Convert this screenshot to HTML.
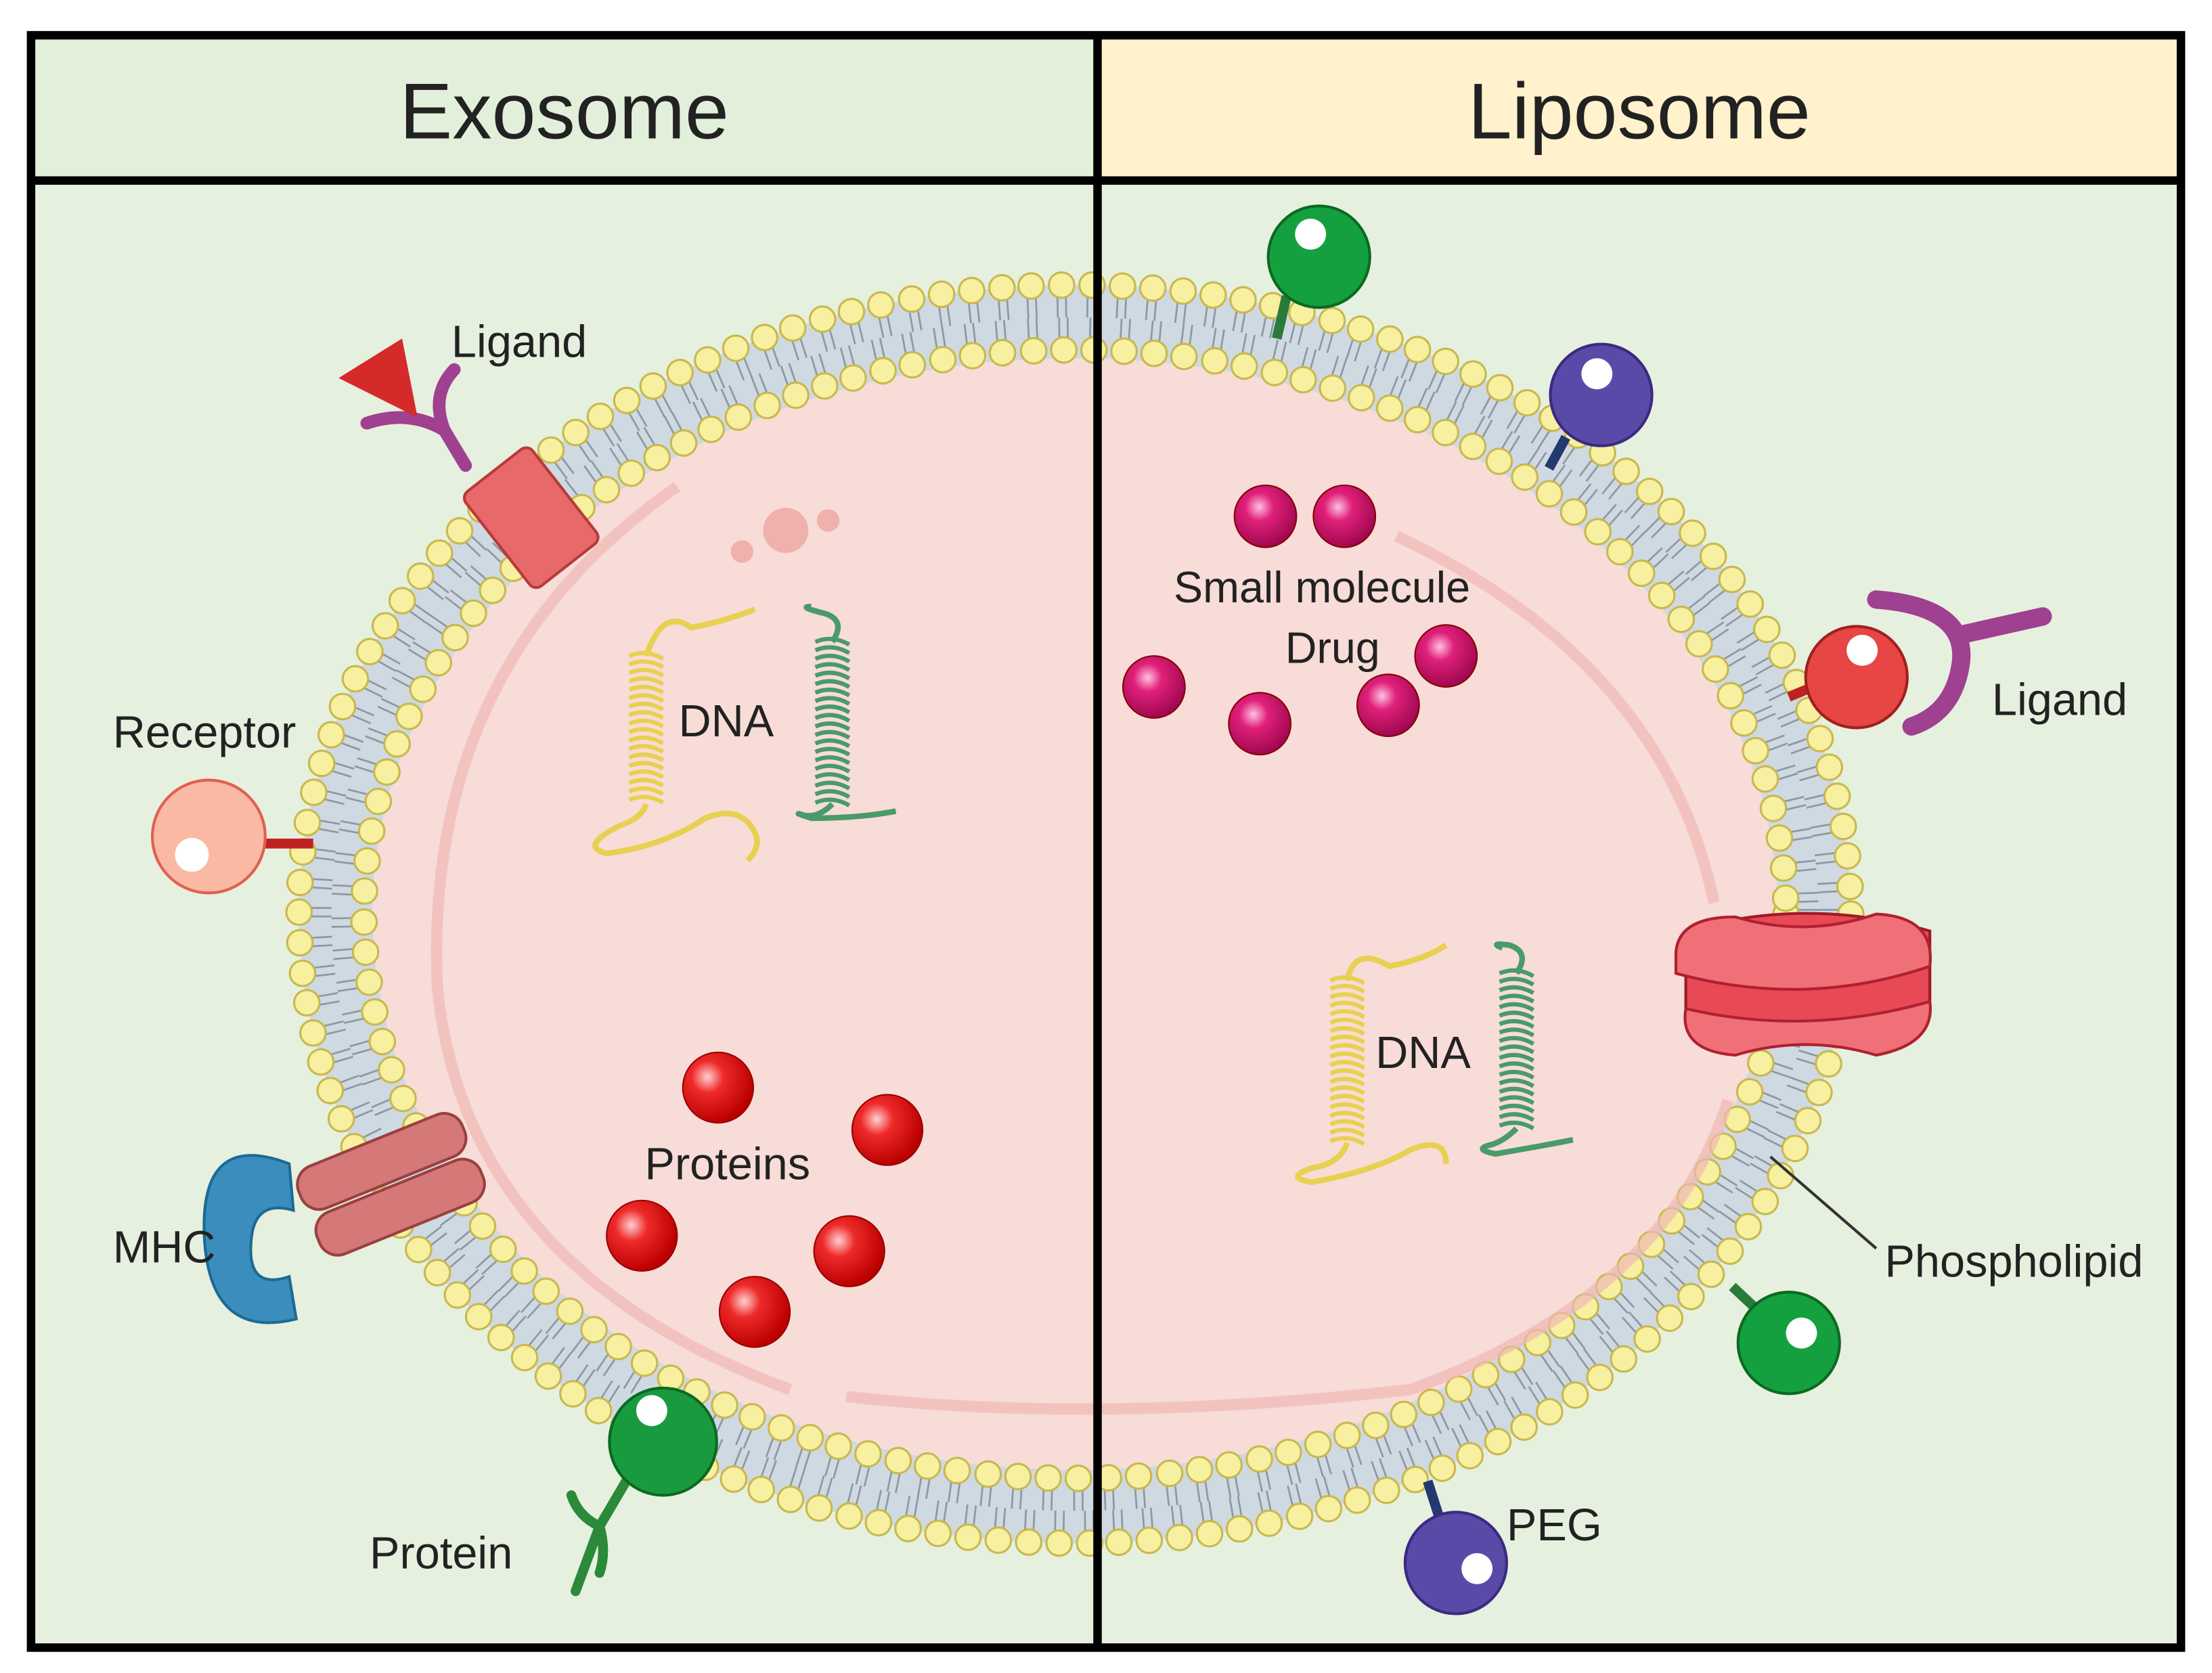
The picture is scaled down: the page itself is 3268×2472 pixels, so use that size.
<!DOCTYPE html>
<html><head><meta charset="utf-8"><style>
html,body{margin:0;padding:0;background:#fff}
svg{display:block}
text{font-family:"Liberation Sans",sans-serif;fill:#222}
</style></head><body>
<svg id="s" width="3268" height="2472" viewBox="0 0 1568 1186" preserveAspectRatio="none" xmlns="http://www.w3.org/2000/svg">
<defs>
<radialGradient id="gred" cx="35%" cy="35%" r="65%"><stop offset="0" stop-color="#ffd0d0"/><stop offset="0.35" stop-color="#ee2a2a"/><stop offset="1" stop-color="#b00"/></radialGradient>
<radialGradient id="gpink" cx="40%" cy="35%" r="65%"><stop offset="0" stop-color="#ffc0e0"/><stop offset="0.35" stop-color="#e0207a"/><stop offset="1" stop-color="#a00850"/></radialGradient>
</defs>
<rect x="0" y="0" width="1568" height="1186" fill="#fff"/>
<rect x="22" y="25" width="756" height="103" fill="#e2efda"/>
<rect x="778" y="25" width="768" height="103" fill="#fff2cc"/>
<rect x="22" y="128" width="1524" height="1040" fill="#e6f0de"/>
<g id="mem"></g>
<path d="M480 345 Q300 470 310 700 Q330 900 560 985" fill="none" stroke="#efb8b4" stroke-width="8" opacity="0.7"/>
<path d="M990 380 Q1180 470 1215 640" fill="none" stroke="#efb8b4" stroke-width="8" opacity="0.7"/>
<path d="M600 990 Q780 1010 1000 985 Q1180 920 1225 780" fill="none" stroke="#efb8b4" stroke-width="8" opacity="0.7"/>
<circle cx="557" cy="376" r="16" fill="#f0b0ac"/><circle cx="587" cy="369" r="8" fill="#f0b0ac"/><circle cx="526" cy="391" r="8" fill="#f0b0ac"/>
<g id="dna"></g>
<text x="481" y="522" font-size="32">DNA</text>
<text x="975" y="757" font-size="32">DNA</text>
<g fill="url(#gred)" stroke="#900" stroke-width="1">
<circle cx="509" cy="771" r="25"/><circle cx="629" cy="801" r="25"/><circle cx="455" cy="876" r="25"/><circle cx="602" cy="887" r="25"/><circle cx="535" cy="930" r="25"/>
</g>
<text x="457" y="836" font-size="32">Proteins</text>
<g fill="url(#gpink)" stroke="#800" stroke-width="1">
<circle cx="897" cy="366" r="22"/><circle cx="953" cy="366" r="22"/><circle cx="1025" cy="465" r="22"/><circle cx="818" cy="487" r="22"/><circle cx="893" cy="513" r="22"/><circle cx="984" cy="500" r="22"/>
</g>
<text x="832" y="427" font-size="31">Small molecule</text>
<text x="911" y="470" font-size="31">Drug</text>
<g transform="rotate(-38 375 365)"><rect x="345" y="325" width="60" height="85" rx="6" fill="#e8696a" stroke="#b83a3a" stroke-width="2"/></g>
<path d="M330 330 L315 305 M315 305 Q290 290 260 300 M315 305 Q305 280 322 262" fill="none" stroke="#a04090" stroke-width="9" stroke-linecap="round"/>
<path d="M240 268 L285 240 L296 296 Z" fill="#d42a2a"/>
<text x="320" y="253" font-size="32">Ligand</text>
<line x1="185" y1="598" x2="222" y2="598" stroke="#c02020" stroke-width="7"/>
<circle cx="148" cy="593" r="40" fill="#f9b9a5" stroke="#e06050" stroke-width="2"/>
<circle cx="136" cy="606" r="12" fill="#fff"/>
<text x="80" y="530" font-size="32">Receptor</text>
<path d="M205 825 Q140 800 145 880 Q150 950 210 935 L205 905 Q175 915 178 880 Q180 850 208 858 Z" fill="#3a8dbc" stroke="#1d6a94" stroke-width="2"/>
<g transform="rotate(-22 280 840)"><rect x="215" y="805" width="125" height="32" rx="14" fill="#d47878" stroke="#9a4040" stroke-width="2"/><rect x="215" y="840" width="125" height="32" rx="14" fill="#d47878" stroke="#9a4040" stroke-width="2"/></g>
<text x="80" y="895" font-size="32">MHC</text>
<path d="M445 1048 L425 1082 M425 1082 L408 1128 M425 1082 Q410 1075 405 1060 M425 1082 Q430 1100 425 1115" fill="none" stroke="#2a8a3a" stroke-width="7" stroke-linecap="round"/>
<circle cx="470" cy="1022" r="38" fill="#1a9a3e" stroke="#0a6a20" stroke-width="2"/>
<circle cx="462" cy="1000" r="11" fill="#fff"/>
<text x="262" y="1112" font-size="32">Protein</text>
<line x1="912" y1="210" x2="905" y2="240" stroke="#2a7a3a" stroke-width="7"/>
<circle cx="935" cy="182" r="36" fill="#15a040" stroke="#0a6a20" stroke-width="2"/><circle cx="929" cy="166" r="11" fill="#fff"/>
<line x1="1110" y1="310" x2="1098" y2="332" stroke="#223a70" stroke-width="7"/>
<circle cx="1135" cy="280" r="36" fill="#5a4aa8" stroke="#3a2a80" stroke-width="2"/><circle cx="1132" cy="265" r="11" fill="#fff"/>
<line x1="1268" y1="494" x2="1285" y2="487" stroke="#c02020" stroke-width="7"/>
<circle cx="1316" cy="480" r="36" fill="#e84545" stroke="#a02020" stroke-width="2"/><circle cx="1320" cy="461" r="11" fill="#fff"/>
<path d="M1330 425 Q1395 430 1390 470 Q1385 505 1355 515 M1390 450 L1448 437" fill="none" stroke="#a04090" stroke-width="13" stroke-linecap="round"/>
<text x="1412" y="507" font-size="32">Ligand</text>
<path d="M1195 660 Q1280 635 1368 660 L1368 720 Q1280 745 1195 720 Z" fill="#e84a55" stroke="#a01828" stroke-width="2"/>
<path d="M1188 675 Q1190 650 1230 650 Q1280 665 1330 648 Q1372 650 1368 685 Q1280 715 1188 690 Z" fill="#f07078" stroke="#b02030" stroke-width="2"/>
<path d="M1195 715 Q1280 735 1368 710 Q1372 740 1330 748 Q1280 733 1230 748 Q1190 745 1195 715 Z" fill="#f07078" stroke="#b02030" stroke-width="2"/>
<line x1="1255" y1="820" x2="1330" y2="885" stroke="#333" stroke-width="2"/>
<text x="1336" y="905" font-size="32">Phospholipid</text>
<line x1="1228" y1="912" x2="1245" y2="928" stroke="#2a7a3a" stroke-width="7"/>
<circle cx="1268" cy="952" r="36" fill="#15a040" stroke="#0a6a20" stroke-width="2"/><circle cx="1277" cy="945" r="11" fill="#fff"/>
<line x1="1012" y1="1050" x2="1020" y2="1075" stroke="#223a70" stroke-width="7"/>
<circle cx="1032" cy="1108" r="36" fill="#5a4aa8" stroke="#3a2a80" stroke-width="2"/><circle cx="1047" cy="1112" r="11" fill="#fff"/>
<text x="1068" y="1092" font-size="32">PEG</text>
<rect x="22" y="25" width="1524" height="1143" fill="none" stroke="#000" stroke-width="6"/>
<line x1="22" y1="128" x2="1546" y2="128" stroke="#000" stroke-width="6"/>
<line x1="778" y1="25" x2="778" y2="1168" stroke="#000" stroke-width="6"/>
<text x="400" y="98" font-size="56" text-anchor="middle" fill="#111">Exosome</text>
<text x="1162" y="98" font-size="56" text-anchor="middle" fill="#111">Liposome</text>
</svg>
<script>
(function(){
var NS="http://www.w3.org/2000/svg",g=document.getElementById("mem");
var cx=762,cy=648,rx=550,ry=446;
function el(n,a){var e=document.createElementNS(NS,n);for(var k in a)e.setAttribute(k,a[k]);return e;}
g.appendChild(el("ellipse",{cx:cx,cy:cy,rx:rx,ry:ry,fill:"#cfd9e2"}));
g.appendChild(el("ellipse",{cx:cx,cy:cy,rx:rx-52,ry:ry-52,fill:"#f7dcd7"}));
function ring(off,sp){var pts=[],N=4000,L=0,prev=null,next=0;
 for(var i=0;i<=N;i++){var t=i/N*2*Math.PI,x=cx+(rx-off)*Math.cos(t),y=cy+(ry-off)*Math.sin(t);
  if(prev)L+=Math.hypot(x-prev[0],y-prev[1]);prev=[x,y];
  if(L>=next){pts.push([x,y,t]);next+=sp;}}
 return pts;}
var o=ring(0,21.5),inn=ring(46,21.5);
o.forEach(function(p){var t=p[2],nx=Math.cos(t)/rx,ny=Math.sin(t)/ry,n=Math.hypot(nx,ny);nx/=n;ny/=n;
 [-3,3].forEach(function(d){var tx=-ny*d,ty=nx*d;g.appendChild(el("line",{x1:p[0]+tx,y1:p[1]+ty,x2:p[0]-nx*23+tx,y2:p[1]-ny*23+ty,stroke:"#8d98a3","stroke-width":1.3}));});});
inn.forEach(function(p){var t=p[2],nx=Math.cos(t)/rx,ny=Math.sin(t)/ry,n=Math.hypot(nx,ny);nx/=n;ny/=n;
 [-3,3].forEach(function(d){var tx=-ny*d,ty=nx*d;g.appendChild(el("line",{x1:p[0]+tx,y1:p[1]+ty,x2:p[0]+nx*23+tx,y2:p[1]+ny*23+ty,stroke:"#8d98a3","stroke-width":1.3}));});});
o.concat(inn).forEach(function(p){g.appendChild(el("circle",{cx:p[0],cy:p[1],r:9,fill:"#f6f0a0",stroke:"#c9b84e","stroke-width":1.5}));});
var d=document.getElementById("dna");
function helix(x,y0,y1,col,lead,tail){var p="";for(var y=y0;y<y1;y+=6){p+="M"+(x-12)+" "+y+" Q"+x+" "+(y-5)+" "+(x+12)+" "+(y+2)+" ";}
 d.appendChild(el("path",{d:lead,fill:"none",stroke:col,"stroke-width":4}));
 d.appendChild(el("path",{d:p,fill:"none",stroke:col,"stroke-width":3}));
 d.appendChild(el("path",{d:tail,fill:"none",stroke:col,"stroke-width":4}));}
helix(458,465,570,"#e8d050","M458 465 Q470 430 490 445 Q515 440 535 432","M458 570 Q455 580 440 585 Q410 600 430 605 Q470 600 500 580 Q525 570 535 590 Q540 600 530 610");
helix(590,455,570,"#4a9a6a","M590 455 Q600 440 585 435 Q565 430 575 430","M590 570 Q580 580 570 578 Q560 575 575 580 Q610 580 635 575");
helix(955,695,810,"#e8d050","M955 695 Q960 670 985 685 Q1010 680 1025 670","M955 810 Q950 825 930 828 Q910 835 930 838 Q975 830 1000 815 Q1025 805 1025 825");
helix(1075,690,800,"#4a9a6a","M1075 690 Q1085 675 1070 670 Q1055 668 1065 672","M1075 800 Q1065 810 1055 812 Q1045 815 1060 818 Q1095 812 1115 808");
})();
</script>
</body></html>
